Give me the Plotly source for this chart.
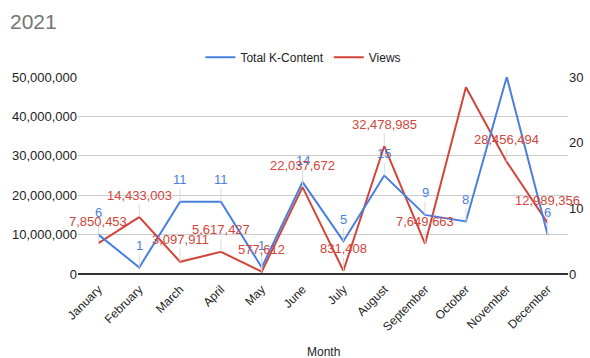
import plotly.graph_objects as go

months = ["January", "February", "March", "April", "May", "June", "July",
          "August", "September", "October", "November", "December"]
k_content = [6, 1, 11, 11, 1, 14, 5, 15, 9, 8, 30, 6]
views = [7850453, 14433003, 3097911, 5617427, 577612, 22037672, 831408,
         32478985, 7649663, 47400000, 28456494, 12989356]
# labels hidden in the reference chart (index of month)
hidden_views_labels = [9]
hidden_k_labels = [10]

BLUE = "#4a7fe0"
RED = "#d2453a"

fig = go.Figure()
fig.add_trace(go.Scatter(x=months, y=k_content, name="Total K-Content", mode="lines",
                         line=dict(color=BLUE, width=2), yaxis="y2"))
fig.add_trace(go.Scatter(x=months, y=views, name="Views", mode="lines",
                         line=dict(color=RED, width=2), yaxis="y"))

annotations = []
for i, (m, v) in enumerate(zip(months, k_content)):
    if i in hidden_k_labels:
        continue
    annotations.append(dict(x=m, y=v, xref="x", yref="y2", text=f"{v}",
                            showarrow=True, arrowhead=0, arrowwidth=1, arrowcolor="#d9d9d9",
                            ax=0, ay=-22, font=dict(color=BLUE, size=13)))
for i, (m, v) in enumerate(zip(months, views)):
    if i in hidden_views_labels:
        continue
    annotations.append(dict(x=m, y=v, xref="x", yref="y", text=f"{v:,}",
                            showarrow=True, arrowhead=0, arrowwidth=1, arrowcolor="#d9d9d9",
                            ax=0, ay=-22, font=dict(color=RED, size=13)))
annotations.append(dict(x=0.5, y=-0.396, xref="paper", yref="paper", text="Month",
                        showarrow=False, xanchor="center", yanchor="middle",
                        font=dict(size=12, color="#222222")))

fig.update_layout(
    width=590, height=358,
    margin=dict(l=78, r=22, t=77, b=84, autoexpand=False),
    paper_bgcolor="white", plot_bgcolor="white",
    font=dict(family="Liberation Sans, Arial, sans-serif", size=12, color="#222222"),
    title=dict(text="2021", x=0.017, xanchor="left", y=0.94, yanchor="middle",
               font=dict(size=21, color="#757575")),
    legend=dict(orientation="h", x=0.46, xanchor="center", y=1.1, yanchor="middle",
                font=dict(size=12, color="#222222"), itemwidth=30),
    showlegend=True,
    xaxis=dict(type="category", range=[-0.5, 11.5], tickangle=-45, showgrid=False,
               showline=False, ticks="", tickfont=dict(size=12, color="#222222"),
               ticklabelstandoff=5, automargin=False),
    yaxis=dict(range=[0, 50000000], tickvals=[0, 10000000, 20000000, 30000000, 40000000, 50000000],
               tickformat=",d", gridcolor="#cccccc", zeroline=True, zerolinecolor="#333333",
               zerolinewidth=1.5, tickfont=dict(size=13, color="#222222"), ticks="", showline=False,
               automargin=False),
    yaxis2=dict(range=[0, 30], tickvals=[0, 10, 20, 30], overlaying="y", side="right",
                showgrid=False, zeroline=False, tickfont=dict(size=13, color="#222222"),
                ticks="", showline=False, automargin=False),
    annotations=annotations,
)

fig.write_html("out.html")
